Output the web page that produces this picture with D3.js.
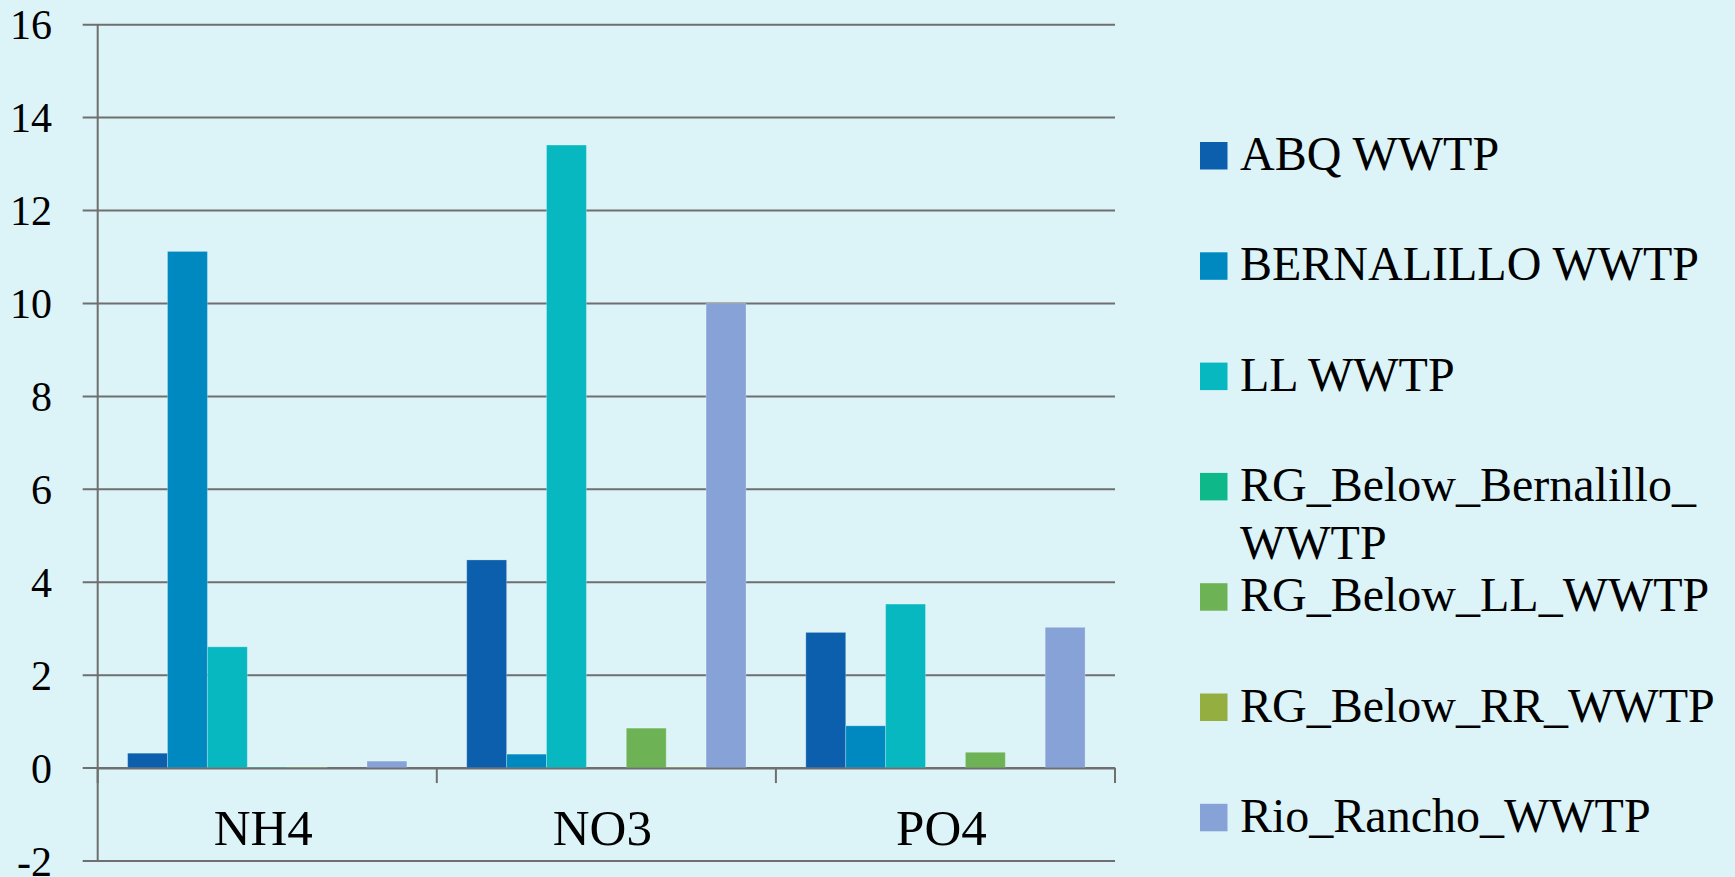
<!DOCTYPE html>
<html>
<head>
<meta charset="utf-8">
<script src="https://cdn.jsdelivr.net/npm/d3@7"></script>
<style>
  html, body { margin: 0; padding: 0; background: #dcf4f8; }
  svg { display: block; }
  text { font-family: "Liberation Serif", "DejaVu Serif", serif; fill: #000; }
</style>
</head>
<body>
<svg id="chart" width="1735" height="877"></svg>
<script>
// Nutrient concentrations by discharge / river site
const categories = ["NH4", "NO3", "PO4"];
const seriesNames = [
  "ABQ WWTP",
  "BERNALILLO WWTP",
  "LL WWTP",
  "RG_Below_Bernalillo_WWTP",
  "RG_Below_LL_WWTP",
  "RG_Below_RR_WWTP",
  "Rio_Rancho_WWTP"
];
const abqWWTP           = [0.32, 4.48, 2.92];
const bernalilloWWTP    = [11.12, 0.30, 0.91];
const llWWTP            = [2.61, 13.41, 3.53];
const rgBelowBernalillo = [0.02, 0, 0];
const rgBelowLL         = [0.02, 0.86, 0.34];
const rgBelowRR         = [0, 0.02, 0];
const rioRanchoWWTP     = [0.15, 10.0, 3.03];
const seriesValues = [abqWWTP, bernalilloWWTP, llWWTP, rgBelowBernalillo, rgBelowLL, rgBelowRR, rioRanchoWWTP];
const yTicks = [-2, 0, 2, 4, 6, 8, 10, 12, 14, 16];
const seriesColors = ["#0b5fac", "#0089c0", "#07b8c0", "#0fb889", "#6db356", "#94ae40", "#86a2d7"];

const svg = d3.select("#chart");
const W = 1735, H = 877;
const plot = { left: 97.7, right: 1115, top: 24.7, bottom: 861 };
const stub = 15;
const lineColor = "#6f6f6f";

svg.append("rect").attr("width", W).attr("height", H).attr("fill", "#dcf4f8");

const y = d3.scaleLinear().domain([-2, 16]).range([plot.bottom, plot.top]);
const x0 = d3.scaleBand().domain(categories).range([plot.left, plot.right]).padding(0);
const x1 = d3.scaleBand().domain(seriesNames).range([0, x0.bandwidth()])
  .paddingInner(0).paddingOuter(0.75);

// horizontal gridlines, each with a short stub left of the axis
const grid = svg.append("g");
grid.selectAll("line")
  .data(yTicks)
  .join("line")
  .attr("x1", plot.left - stub).attr("x2", plot.right)
  .attr("y1", d => y(d)).attr("y2", d => y(d))
  .attr("stroke", lineColor).attr("stroke-width", 2);

// y tick labels (plain hyphen for negatives)
svg.append("g").selectAll("text")
  .data(yTicks)
  .join("text")
  .attr("x", 52)
  .attr("y", d => y(d) + 14.5)
  .attr("text-anchor", "end")
  .style("font-size", "42px")
  .text(d => String(d));

// vertical axis line
svg.append("line")
  .attr("x1", plot.left).attr("x2", plot.left)
  .attr("y1", y(16)).attr("y2", y(-2))
  .attr("stroke", lineColor).attr("stroke-width", 2);

// bars
const groups = svg.append("g").selectAll("g")
  .data(categories)
  .join("g")
  .attr("transform", d => `translate(${x0(d)},0)`);

groups.selectAll("rect")
  .data((c, ci) => seriesNames.map((s, si) => ({ s, si, v: seriesValues[si][ci] })))
  .join("rect")
  .attr("x", d => x1(d.s))
  .attr("width", x1.bandwidth())
  .attr("y", d => y(Math.max(0, d.v)))
  .attr("height", d => Math.abs(y(d.v) - y(0)))
  .attr("fill", d => seriesColors[d.si])
  .attr("stroke", "rgba(255,255,255,0.25)")
  .attr("stroke-width", 1);

// category axis on the zero line
const xAxis = d3.axisBottom(x0).tickSize(0).tickPadding(0);
const gx = svg.append("g").attr("transform", `translate(0,${y(0)})`).call(xAxis);
gx.select(".domain").attr("stroke", lineColor).attr("stroke-width", 2);
gx.selectAll(".tick text")
  .attr("y", 845 - y(0))
  .attr("dx", -4)
  .attr("dy", null)
  .style("font-size", "51px")
  .style("font-family", '"Liberation Serif", serif');

// category separator ticks
const boundaries = categories.map(c => x0(c) + x0.bandwidth()).concat([plot.left]);
svg.append("g").selectAll("line")
  .data(boundaries)
  .join("line")
  .attr("x1", d => d).attr("x2", d => d)
  .attr("y1", y(0)).attr("y2", y(0) + stub)
  .attr("stroke", lineColor).attr("stroke-width", 2);

// legend
const legend = svg.append("g");
const legendX = 1200, textX = 1240, maxTextW = 490;
const firstBaseline = 170, rowStep = 110.3, lineHeight = 58;

seriesNames.forEach((name, i) => {
  const baseline = firstBaseline + i * rowStep;
  const g = legend.append("g");
  g.append("rect")
    .attr("x", legendX).attr("y", baseline - 28)
    .attr("width", 27.5).attr("height", 27.5)
    .attr("fill", seriesColors[i]);
  const t = g.append("text")
    .attr("x", textX).attr("y", baseline)
    .style("font-size", "48px");
  t.text(name);
  if (t.node().getComputedTextLength() > maxTextW) {
    // break after the last underscore that keeps the first line in bounds
    const parts = name.split(/(?<=_)/);
    let first = "";
    let k = 0;
    while (k < parts.length) {
      t.text(first + parts[k]);
      if (t.node().getComputedTextLength() > maxTextW) break;
      first += parts[k];
      k++;
    }
    const lines = [first, parts.slice(k).join("")];
    t.text(null);
    lines.forEach((ln, li) => {
      t.append("tspan").attr("x", textX).attr("y", baseline + li * lineHeight).text(ln);
    });
  }
});
</script>
</body>
</html>
